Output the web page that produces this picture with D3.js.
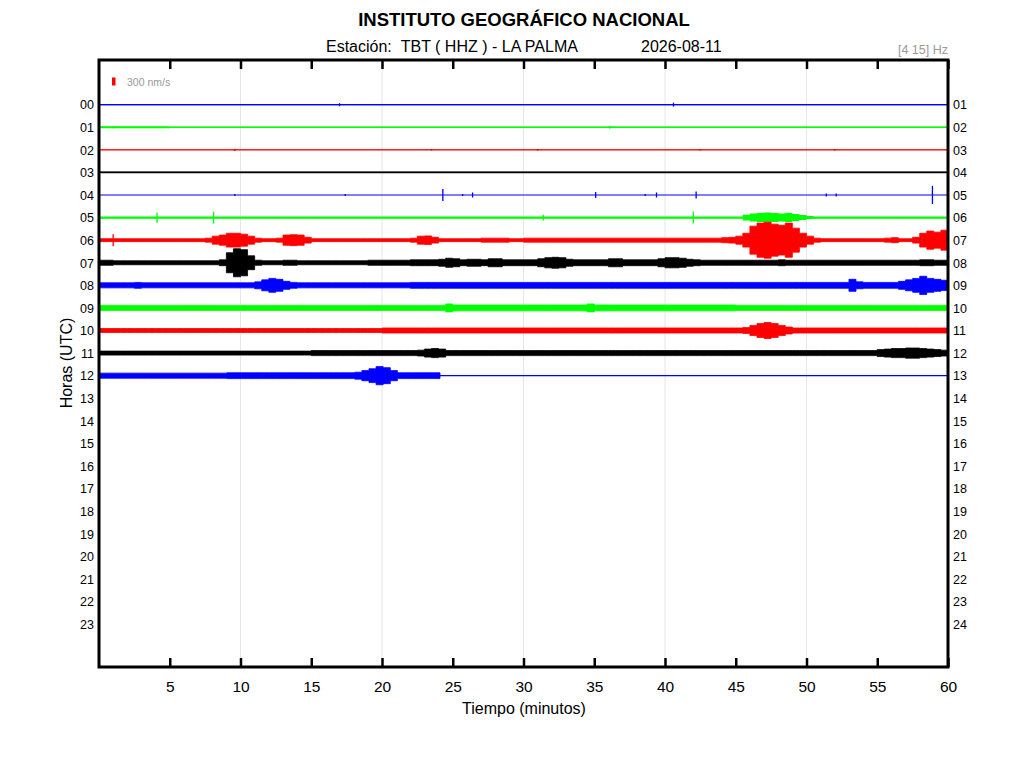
<!DOCTYPE html>
<html>
<head>
<meta charset="utf-8">
<script src="https://cdn.jsdelivr.net/npm/d3@7"></script>
<style>
body { margin: 0; background: #fff; }
svg { display: block; }
text { font-family: "Liberation Sans", Arial, sans-serif; }
</style>
</head>
<body>
<script>
// tick labels
var minuteTicks = [5, 10, 15, 20, 25, 30, 35, 40, 45, 50, 55, 60];
var gridMinutes = [10, 20, 30, 40, 50];
var hourLabelsLeft = ["00","01","02","03","04","05","06","07","08","09","10","11",
                      "12","13","14","15","16","17","18","19","20","21","22","23"];
var hourLabelsRight = ["01","02","03","04","05","06","07","08","09","10","11","12",
                       "13","14","15","16","17","18","19","20","21","22","23","24"];

// half amplitude envelope of each hour trace (nm/s).
// quiet hours at 5 min resolution, active hours at 0.5 min resolution
var hour00 = [20,20,20,20,20,20,20,20,20,20,20,20];
var hour01 = [35,25,25,25,25,25,25,25,25,25,25,25];
var hour02 = [8,8,8,8,8,8,8,8,8,8,8,8];
var hour03 = [35,35,35,35,35,35,35,35,35,35,35,35];
var hour04 = [0,0,0,0,0,0,0,0,0,0,0,0];
var hour05 = [
  40,40,40,40,40,40,40,40,40,40,40,40,40,40,40,40,40,40,40,40,
  40,40,40,40,40,40,40,40,40,40,40,40,40,40,40,40,40,40,40,40,
  40,40,40,40,40,40,40,40,40,40,40,40,40,40,40,40,40,40,40,40,
  40,40,40,40,40,40,40,40,40,40,40,40,40,40,40,40,40,40,40,40,
  40,40,40,40,40,40,40,40,40,40,40,110,150,170,190,170,150,170,130,95,
  55,40,40,40,40,40,40,40,40,40,40,40,40,40,40,40,40,40,40,40];
var hour06 = [
  55,55,55,55,55,55,55,55,55,55,55,55,55,55,55,75,150,190,260,260,
  225,150,75,55,55,75,190,205,190,110,55,55,55,55,55,55,55,55,55,55,
  55,55,55,55,75,150,160,110,55,55,55,55,55,55,75,75,75,75,55,55,
  75,75,75,75,75,75,75,75,75,75,75,75,75,75,75,75,75,75,75,75,
  75,75,75,75,75,75,75,75,95,110,150,260,525,640,675,600,560,640,450,260,
  150,75,55,55,55,55,55,55,55,55,55,75,95,55,55,110,260,340,300,375];
var hour07 = [
  95,95,75,75,75,75,75,75,75,75,75,75,75,75,75,75,75,110,375,525,
  490,260,95,75,75,75,95,95,75,75,75,75,75,75,75,75,75,75,95,95,
  95,95,95,95,110,110,110,110,130,170,150,110,130,130,110,150,150,110,110,110,
  110,110,150,190,205,190,130,110,110,110,110,110,150,150,110,110,110,110,110,150,
  190,190,170,130,110,95,95,95,95,95,95,95,95,95,95,95,110,95,95,95,
  95,95,95,95,95,95,95,95,95,95,95,95,95,95,95,95,110,110,95,95];
var hour08 = [
  95,95,95,95,95,110,95,95,95,95,95,95,95,95,95,95,95,95,95,95,
  95,95,130,205,260,225,150,110,95,95,95,95,95,95,95,95,95,95,95,95,
  95,95,95,95,110,110,110,110,110,110,110,110,110,110,110,110,110,110,110,110,
  110,110,110,110,110,110,110,110,110,110,110,110,110,110,110,110,110,110,110,110,
  110,110,110,110,110,110,110,110,110,110,110,110,110,110,110,110,110,110,110,110,
  110,110,110,110,110,110,225,130,110,110,110,110,110,150,205,260,340,260,225,190];
var hour09 = [
  95,95,95,95,95,95,95,95,95,95,95,95,95,95,95,95,95,95,95,95,
  95,95,95,95,95,95,95,95,95,95,95,95,95,95,95,95,95,95,95,95,
  95,95,95,95,95,95,95,95,95,150,110,110,110,110,110,110,110,110,110,110,
  110,110,110,110,110,110,110,110,110,150,110,110,110,110,110,110,110,110,110,110,
  110,110,110,110,110,110,110,110,110,110,95,95,95,95,95,95,95,95,95,95,
  95,95,95,95,95,95,95,95,95,95,95,95,95,95,95,95,95,95,95,95];
var hour10 = [
  75,75,75,75,75,75,75,75,75,75,75,75,75,75,75,75,75,75,75,75,
  75,75,75,75,75,75,75,75,75,75,75,75,75,75,75,75,75,75,75,75,
  95,95,95,95,95,95,95,95,95,95,95,95,95,95,95,95,95,95,95,95,
  95,95,95,95,95,95,95,95,95,95,95,95,95,95,95,95,95,95,95,95,
  95,95,95,95,95,95,95,95,95,95,95,110,190,260,300,260,190,130,95,95,
  95,95,95,95,95,95,95,95,95,95,95,95,95,95,95,95,95,95,95,95];
var hour11 = [
  75,75,75,75,75,75,75,75,75,75,75,75,75,75,75,75,75,75,75,75,
  75,75,75,75,75,75,75,75,75,75,95,95,95,95,95,95,95,95,95,95,
  95,95,95,95,95,110,150,170,150,95,95,95,95,95,95,95,95,95,95,95,
  95,95,95,95,95,95,95,95,95,95,95,95,95,95,95,95,95,95,95,95,
  95,95,95,95,95,95,95,95,95,95,95,95,95,95,95,95,95,95,95,95,
  95,95,95,95,95,95,95,95,95,95,130,150,170,170,190,190,170,150,130,110];
// hour 12 only recorded up to minute 24
var hour12 = [
  95,95,95,95,95,95,95,95,95,95,95,95,95,95,95,95,95,95,110,110,
  110,110,110,110,110,110,110,110,110,110,110,110,110,110,110,110,130,190,260,340,
  300,190,110,110,110,110,110,110];
var hour12End = 24.1;

// isolated spikes: [hour, minute, half amplitude nm/s]
var spikes = [
  [0, 17.0, 55], [0, 40.6, 75],
  [1, 1.0, 40], [1, 36.1, 55],
  [2, 9.6, 40], [2, 23.5, 30], [2, 31.0, 30], [2, 42.5, 30], [2, 52.0, 30],
  [4, 9.6, 40], [4, 17.4, 40], [4, 24.3, 225], [4, 25.7, 40], [4, 26.4, 95],
  [4, 35.1, 110], [4, 38.6, 40], [4, 39.4, 95], [4, 42.2, 130],
  [4, 51.4, 55], [4, 52.1, 55], [4, 58.9, 340],
  [5, 4.1, 190], [5, 8.1, 225], [5, 31.4, 110], [5, 42.0, 225],
  [6, 1.0, 225]
];

var scaleValue = 300;

var traces = [hour00, hour01, hour02, hour03, hour04, hour05, hour06,
              hour07, hour08, hour09, hour10, hour11, hour12];
var traceColors = ["#0000ff", "#00ff00", "#ff0000", "#000000"];

var svg = d3.select("body")
    .append("svg")
    .attr("width", 1024)
    .attr("height", 768);

var x = d3.scaleLinear().domain([0, 60]).range([99, 948]);
var y = d3.scaleLinear().domain([-2, 24.9]).range([59.5, 667]);
var amp = d3.scaleLinear().domain([0, scaleValue]).range([0, 8]);

// grid
svg.append("g").selectAll("line")
    .data(gridMinutes)
    .enter().append("line")
    .attr("x1", function(d){ return x(d); })
    .attr("x2", function(d){ return x(d); })
    .attr("y1", 60)
    .attr("y2", 667)
    .attr("stroke", "#e6e6e6")
    .attr("stroke-width", 1);

// traces
var traceG = svg.append("g");
traces.forEach(function(env, h){
    var color = traceColors[h % 4];
    var end = (h == 12) ? hour12End : 60;
    var step = end / env.length;
    var pts = env.map(function(v, i){ return [i * step, v]; });
    pts.push([end, env[env.length - 1]]);

    var area = d3.area()
        .curve(d3.curveStepAfter)
        .x(function(d){ return x(d[0]); })
        .y0(function(d){ return y(h) + amp(d[1]); })
        .y1(function(d){ return y(h) - amp(d[1]); });

    traceG.append("path")
        .attr("d", area(pts))
        .attr("fill", color)
        .attr("stroke", env[0] > 40 ? color : "none")
        .attr("stroke-width", 0.8)
        .attr("stroke-linejoin", "miter");

    // baseline across the whole hour
    traceG.append("line")
        .attr("x1", x(0))
        .attr("x2", x(60))
        .attr("y1", y(h))
        .attr("y2", y(h))
        .attr("stroke", color)
        .attr("stroke-width", 1.2);
});

traceG.selectAll("line.spike")
    .data(spikes)
    .enter().append("line")
    .attr("class", "spike")
    .attr("x1", function(d){ return x(d[1]); })
    .attr("x2", function(d){ return x(d[1]); })
    .attr("y1", function(d){ return y(d[0]) - amp(d[2]); })
    .attr("y2", function(d){ return y(d[0]) + amp(d[2]); })
    .attr("stroke", function(d){ return traceColors[d[0] % 4]; })
    .attr("stroke-width", 1.3);

// axes
var bottomAxis = svg.append("g")
    .attr("transform", "translate(0,667)")
    .call(d3.axisBottom(x).tickValues(minuteTicks).tickSize(-9).tickPadding(14));
var topAxis = svg.append("g")
    .attr("transform", "translate(0,60)")
    .call(d3.axisTop(x).tickValues(minuteTicks).tickSize(-9).tickFormat(""));
[bottomAxis, topAxis].forEach(function(g){
    g.select(".domain").remove();
    g.selectAll(".tick line").attr("stroke", "#000").attr("stroke-width", 2.5);
});
bottomAxis.selectAll(".tick text")
    .attr("fill", "#000")
    .style("font-size", "15.5px")
    .style("font-family", "Liberation Sans, Arial, sans-serif");

// frame
svg.append("rect")
    .attr("x", x(0))
    .attr("y", 60)
    .attr("width", x(60) - x(0))
    .attr("height", 607)
    .attr("fill", "none")
    .attr("stroke", "#000")
    .attr("stroke-width", 3);

// hour labels
svg.append("g").selectAll("text")
    .data(hourLabelsLeft)
    .enter().append("text")
    .attr("x", 94)
    .attr("y", function(d, i){ return y(i); })
    .attr("dy", "0.38em")
    .attr("text-anchor", "end")
    .style("font-size", "12.5px")
    .text(function(d){ return d; });

svg.append("g").selectAll("text")
    .data(hourLabelsRight)
    .enter().append("text")
    .attr("x", 953)
    .attr("y", function(d, i){ return y(i); })
    .attr("dy", "0.38em")
    .style("font-size", "12.5px")
    .text(function(d){ return d; });

// titles
svg.append("text")
    .attr("x", 524).attr("y", 26)
    .attr("text-anchor", "middle")
    .style("font-size", "18.5px")
    .style("font-weight", "bold")
    .text("INSTITUTO GEOGRÁFICO NACIONAL");

svg.append("text")
    .attr("x", 326).attr("y", 52)
    .style("font-size", "16px")
    .text("Estación:\u00a0\u00a0TBT ( HHZ ) - LA PALMA");

svg.append("text")
    .attr("x", 641).attr("y", 52)
    .style("font-size", "16px")
    .text("2026-08-11");

svg.append("text")
    .attr("x", 948).attr("y", 54)
    .attr("text-anchor", "end")
    .attr("fill", "#999")
    .style("font-size", "12.5px")
    .text("[4 15] Hz");

svg.append("text")
    .attr("x", 524).attr("y", 714)
    .attr("text-anchor", "middle")
    .style("font-size", "16px")
    .text("Tiempo (minutos)");

svg.append("text")
    .attr("transform", "translate(71.5,363) rotate(-90)")
    .attr("text-anchor", "middle")
    .style("font-size", "16px")
    .text("Horas (UTC)");

// amplitude scale bar
svg.append("rect")
    .attr("x", 112)
    .attr("y", 81.5 - amp(scaleValue) / 2)
    .attr("width", 3.5)
    .attr("height", amp(scaleValue))
    .attr("fill", "#ff0000");

svg.append("text")
    .attr("x", 127).attr("y", 86)
    .attr("fill", "#999")
    .style("font-size", "10.5px")
    .text(scaleValue + " nm/s");
</script>
</body>
</html>
